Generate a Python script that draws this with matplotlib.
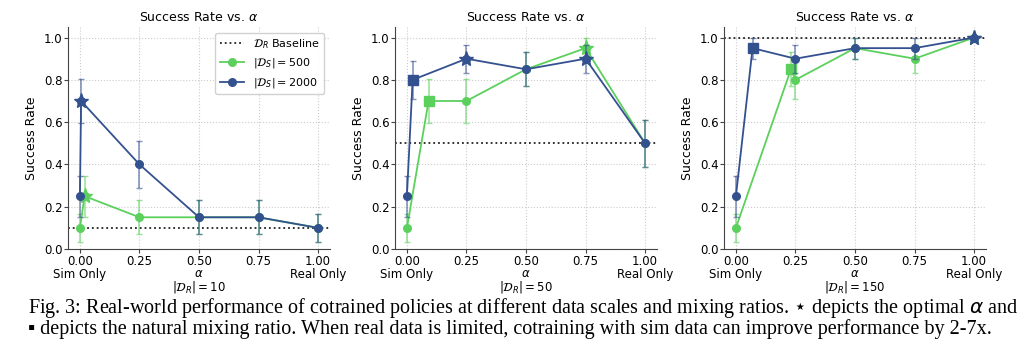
import matplotlib.pyplot as plt
import numpy as np

# data, one panel per |D_R|
alpha_ticks = [0.0, 0.25, 0.5, 0.75, 1.0]
alpha_ticklabels = ["0.00\nSim Only", "0.25", "0.50", "0.75", "1.00\nReal Only"]
real_sizes = [10, 50, 150]
baselines = [0.1, 0.5, 1.0]

# |D_S| = 500
x_500 = [
    [0.0, 0.0196, 0.25, 0.5, 0.75, 1.0],
    [0.0, 0.091, 0.25, 0.5, 0.75, 1.0],
    [0.0, 0.231, 0.25, 0.5, 0.75, 1.0],
]
y_500 = [
    [0.10, 0.25, 0.15, 0.15, 0.15, 0.10],
    [0.10, 0.70, 0.70, 0.85, 0.95, 0.50],
    [0.10, 0.85, 0.80, 0.95, 0.90, 1.00],
]
err_500 = [
    [0.067, 0.097, 0.080, 0.080, 0.080, 0.067],
    [0.067, 0.102, 0.102, 0.080, 0.049, 0.112],
    [0.067, 0.080, 0.089, 0.049, 0.067, 0.0],
]
# |D_S| = 2000
x_2000 = [
    [0.0, 0.005, 0.25, 0.5, 0.75, 1.0],
    [0.0, 0.024, 0.25, 0.5, 0.75, 1.0],
    [0.0, 0.070, 0.25, 0.5, 0.75, 1.0],
]
y_2000 = [
    [0.25, 0.70, 0.40, 0.15, 0.15, 0.10],
    [0.25, 0.80, 0.90, 0.85, 0.90, 0.50],
    [0.25, 0.95, 0.90, 0.95, 0.95, 1.00],
]
err_2000 = [
    [0.097, 0.102, 0.110, 0.080, 0.080, 0.067],
    [0.097, 0.089, 0.067, 0.080, 0.067, 0.112],
    [0.097, 0.049, 0.067, 0.049, 0.049, 0.0],
]
# special markers: index of natural mixing ratio point, and optimal points
natural_idx = 1
optimal_500 = [[1], [4], [5]]
optimal_2000 = [[1], [2, 4], [5]]

green = "#5cd05c"
blue = "#34518f"

plt.rcParams["mathtext.fontset"] = "dejavusans"

fig = plt.figure(figsize=(10.24, 3.58), dpi=100)
lefts = [68, 395, 724]


def draw_series(ax, x, y, err, color, opt, label):
    ax.errorbar(x, y, yerr=err, color=color, ecolor=color, elinewidth=1.2,
                capsize=2, alpha=0.6, fmt="none")
    ax.plot(x, y, color=color, lw=1.3, marker="o", ms=5.5, label=label)
    for i in range(len(x)):
        if i in opt:
            ax.plot(x[i], y[i], marker="*", ms=11, color=color, ls="none")
        elif i == natural_idx:
            ax.plot(x[i], y[i], marker="s", ms=7, color=color, ls="none")


for k in range(3):
    ax = fig.add_axes([lefts[k] / 1024, 109 / 358, 262 / 1024, 222 / 358])
    ax.axhline(baselines[k], color="#222222", ls=":", lw=1.3,
               label=r"$\mathcal{D}_R$ Baseline")
    draw_series(ax, x_500[k], y_500[k], err_500[k], green, optimal_500[k],
                r"$|\mathcal{D}_S| = 500$")
    draw_series(ax, x_2000[k], y_2000[k], err_2000[k], blue, optimal_2000[k],
                r"$|\mathcal{D}_S| = 2000$")
    ax.set_xlim(-0.05, 1.05)
    ax.set_ylim(0, 1.05)
    ax.set_xticks(alpha_ticks)
    ax.set_xticklabels(alpha_ticklabels, fontsize=8.5)
    for t in ax.get_xticklabels():
        t.set_linespacing(1.05)
    ax.set_yticks([0, 0.2, 0.4, 0.6, 0.8, 1.0])
    ax.set_yticklabels(["0.0", "0.2", "0.4", "0.6", "0.8", "1.0"], fontsize=8.5)
    ax.set_xlabel("$\\alpha$\n$|\\mathcal{D}_R| = %d$" % real_sizes[k],
                  fontsize=8.5, labelpad=-10, linespacing=0.92)
    ax.set_ylabel("Success Rate", fontsize=9)
    ax.set_title(r"Success Rate vs. $\alpha$", fontsize=9, pad=4)
    ax.grid(True, ls=":", color="#cccccc", lw=0.8)
    ax.spines["top"].set_visible(False)
    ax.spines["right"].set_visible(False)
    for s in ["left", "bottom"]:
        ax.spines[s].set_color("#444444")
    ax.tick_params(length=3, color="#444444", pad=1)
    if k == 0:
        h, l = ax.get_legend_handles_labels()
        ax.legend(h[:3], l[:3], fontsize=8, loc="upper right",
                  bbox_to_anchor=(1.0, 1.0), handlelength=2.2, framealpha=0.9)

cap_font = ["Liberation Serif", "DejaVu Sans"]
fig.text(0.027, 45 / 358,
         "Fig. 3: Real-world performance of cotrained policies at different data scales "
         "and mixing ratios. $\\star$ depicts the optimal $\\alpha$ and",
         fontsize=14.5, family=cap_font, va="baseline")
fig.text(0.027, 24 / 358,
         "\u25aa depicts the natural mixing ratio. When real data is limited, cotraining "
         "with sim data can improve performance by 2-7x.",
         fontsize=14.5, family=cap_font, va="baseline")

fig.savefig("out.png", dpi=100)
